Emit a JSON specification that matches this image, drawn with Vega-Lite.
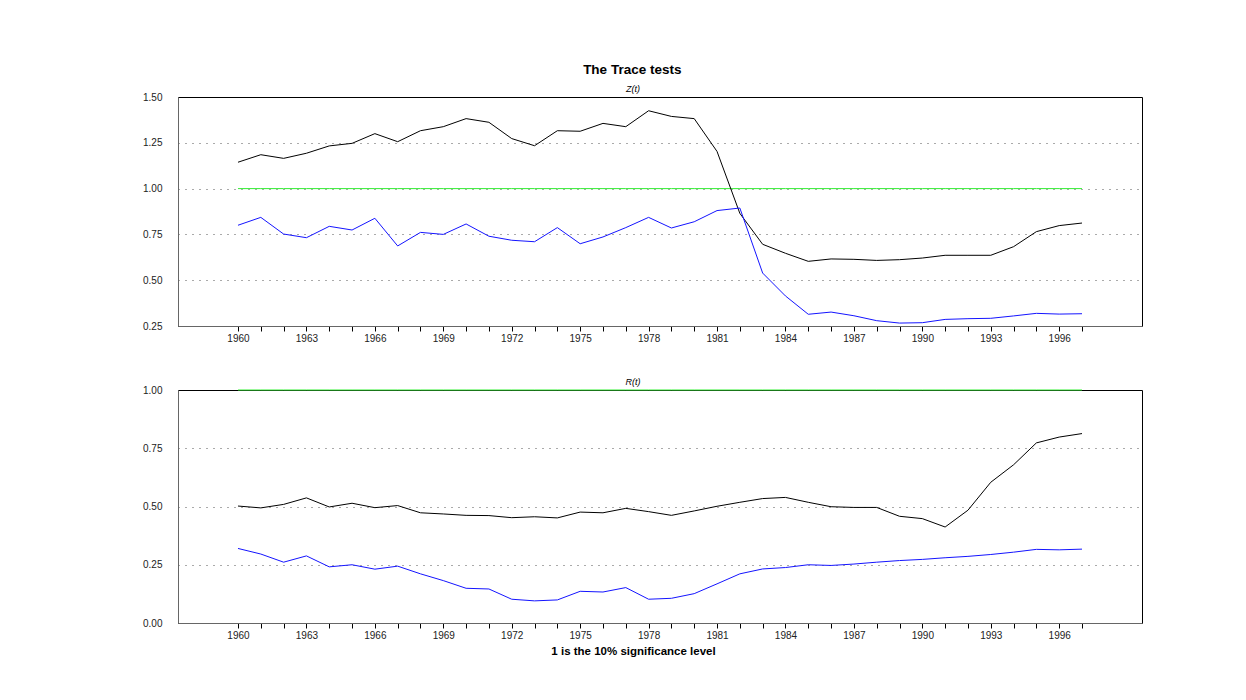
{
  "$schema": "https://vega.github.io/schema/vega-lite/v6.json",
  "background": "white",
  "padding": {"left": 142, "top": 63, "right": 5, "bottom": 5},
  "title": {"text": "The Trace tests", "font": "Liberation Sans", "fontSize": 13.5, "fontWeight": "bold", "color": "#000", "anchor": "middle", "frame": "bounds", "offset": 8, "dx": -10},
  "datasets": {
    "z": [
      {"year": 1960, "upper": 1.144, "lower": 0.800, "level": 1},
      {"year": 1961, "upper": 1.185, "lower": 0.843, "level": 1},
      {"year": 1962, "upper": 1.165, "lower": 0.752, "level": 1},
      {"year": 1963, "upper": 1.193, "lower": 0.732, "level": 1},
      {"year": 1964, "upper": 1.233, "lower": 0.794, "level": 1},
      {"year": 1965, "upper": 1.247, "lower": 0.774, "level": 1},
      {"year": 1966, "upper": 1.300, "lower": 0.838, "level": 1},
      {"year": 1967, "upper": 1.256, "lower": 0.687, "level": 1},
      {"year": 1968, "upper": 1.316, "lower": 0.761, "level": 1},
      {"year": 1969, "upper": 1.338, "lower": 0.750, "level": 1},
      {"year": 1970, "upper": 1.382, "lower": 0.807, "level": 1},
      {"year": 1971, "upper": 1.362, "lower": 0.740, "level": 1},
      {"year": 1972, "upper": 1.273, "lower": 0.718, "level": 1},
      {"year": 1973, "upper": 1.234, "lower": 0.710, "level": 1},
      {"year": 1974, "upper": 1.316, "lower": 0.787, "level": 1},
      {"year": 1975, "upper": 1.313, "lower": 0.699, "level": 1},
      {"year": 1976, "upper": 1.356, "lower": 0.736, "level": 1},
      {"year": 1977, "upper": 1.338, "lower": 0.787, "level": 1},
      {"year": 1978, "upper": 1.425, "lower": 0.843, "level": 1},
      {"year": 1979, "upper": 1.394, "lower": 0.785, "level": 1},
      {"year": 1980, "upper": 1.382, "lower": 0.819, "level": 1},
      {"year": 1981, "upper": 1.203, "lower": 0.880, "level": 1},
      {"year": 1982, "upper": 0.865, "lower": 0.894, "level": 1},
      {"year": 1983, "upper": 0.696, "lower": 0.539, "level": 1},
      {"year": 1984, "upper": 0.647, "lower": 0.414, "level": 1},
      {"year": 1985, "upper": 0.603, "lower": 0.314, "level": 1},
      {"year": 1986, "upper": 0.616, "lower": 0.326, "level": 1},
      {"year": 1987, "upper": 0.614, "lower": 0.306, "level": 1},
      {"year": 1988, "upper": 0.608, "lower": 0.279, "level": 1},
      {"year": 1989, "upper": 0.612, "lower": 0.266, "level": 1},
      {"year": 1990, "upper": 0.621, "lower": 0.268, "level": 1},
      {"year": 1991, "upper": 0.636, "lower": 0.286, "level": 1},
      {"year": 1992, "upper": 0.636, "lower": 0.290, "level": 1},
      {"year": 1993, "upper": 0.636, "lower": 0.292, "level": 1},
      {"year": 1994, "upper": 0.683, "lower": 0.305, "level": 1},
      {"year": 1995, "upper": 0.765, "lower": 0.319, "level": 1},
      {"year": 1996, "upper": 0.798, "lower": 0.315, "level": 1},
      {"year": 1997, "upper": 0.812, "lower": 0.317, "level": 1}
    ],
    "r": [
      {"year": 1960, "upper": 0.502, "lower": 0.320, "level": 1},
      {"year": 1961, "upper": 0.494, "lower": 0.296, "level": 1},
      {"year": 1962, "upper": 0.509, "lower": 0.261, "level": 1},
      {"year": 1963, "upper": 0.537, "lower": 0.288, "level": 1},
      {"year": 1964, "upper": 0.498, "lower": 0.241, "level": 1},
      {"year": 1965, "upper": 0.514, "lower": 0.250, "level": 1},
      {"year": 1966, "upper": 0.495, "lower": 0.231, "level": 1},
      {"year": 1967, "upper": 0.504, "lower": 0.244, "level": 1},
      {"year": 1968, "upper": 0.473, "lower": 0.211, "level": 1},
      {"year": 1969, "upper": 0.468, "lower": 0.182, "level": 1},
      {"year": 1970, "upper": 0.462, "lower": 0.149, "level": 1},
      {"year": 1971, "upper": 0.461, "lower": 0.146, "level": 1},
      {"year": 1972, "upper": 0.452, "lower": 0.102, "level": 1},
      {"year": 1973, "upper": 0.456, "lower": 0.095, "level": 1},
      {"year": 1974, "upper": 0.451, "lower": 0.099, "level": 1},
      {"year": 1975, "upper": 0.476, "lower": 0.136, "level": 1},
      {"year": 1976, "upper": 0.473, "lower": 0.133, "level": 1},
      {"year": 1977, "upper": 0.492, "lower": 0.152, "level": 1},
      {"year": 1978, "upper": 0.478, "lower": 0.102, "level": 1},
      {"year": 1979, "upper": 0.462, "lower": 0.106, "level": 1},
      {"year": 1980, "upper": 0.481, "lower": 0.126, "level": 1},
      {"year": 1981, "upper": 0.501, "lower": 0.168, "level": 1},
      {"year": 1982, "upper": 0.518, "lower": 0.211, "level": 1},
      {"year": 1983, "upper": 0.534, "lower": 0.232, "level": 1},
      {"year": 1984, "upper": 0.539, "lower": 0.238, "level": 1},
      {"year": 1985, "upper": 0.518, "lower": 0.250, "level": 1},
      {"year": 1986, "upper": 0.499, "lower": 0.247, "level": 1},
      {"year": 1987, "upper": 0.496, "lower": 0.253, "level": 1},
      {"year": 1988, "upper": 0.496, "lower": 0.261, "level": 1},
      {"year": 1989, "upper": 0.458, "lower": 0.268, "level": 1},
      {"year": 1990, "upper": 0.448, "lower": 0.273, "level": 1},
      {"year": 1991, "upper": 0.412, "lower": 0.280, "level": 1},
      {"year": 1992, "upper": 0.484, "lower": 0.286, "level": 1},
      {"year": 1993, "upper": 0.604, "lower": 0.294, "level": 1},
      {"year": 1994, "upper": 0.679, "lower": 0.304, "level": 1},
      {"year": 1995, "upper": 0.773, "lower": 0.316, "level": 1},
      {"year": 1996, "upper": 0.798, "lower": 0.314, "level": 1},
      {"year": 1997, "upper": 0.813, "lower": 0.317, "level": 1}
    ]
  },
  "config": {
    "font": "Liberation Sans",
    "view": {"stroke": "#000", "strokeWidth": 1},
    "axis": {"labelFont": "Liberation Sans", "labelFontSize": 10, "labelColor": "#222", "domainColor": "#666", "tickColor": "#000", "titleFont": "Liberation Sans"},
    "axisY": {"ticks": false, "labelPadding": 16, "grid": true, "gridDash": [1, 6], "gridColor": "#555", "title": null, "format": ".2f"},
    "axisX": {"grid": false, "tickSize": 5, "labelPadding": 2},
    "line": {"strokeWidth": 1, "clip": false}
  },
  "spacing": 33,
  "vconcat": [
    {
      "width": 964,
      "height": 229,
      "title": {"text": "Z(t)", "fontStyle": "italic", "fontWeight": "normal", "fontSize": 9, "color": "#000", "offset": -2, "frame": "group", "dx": -27, "anchor": "middle"},
      "data": {"name": "z"},
      "transform": [{"fold": ["level", "upper", "lower"], "as": ["series", "val"]}],
      "mark": "line",
      "encoding": {
        "x": {"field": "year", "type": "quantitative", "scale": {"domain": [1957.37, 1999.63], "nice": false, "zero": false}, "axis": {"title": null, "format": "d", "labelExpr": "(datum.value - 1960) % 3 == 0 ? datum.label : ''", "values": [1960,1961,1962,1963,1964,1965,1966,1967,1968,1969,1970,1971,1972,1973,1974,1975,1976,1977,1978,1979,1980,1981,1982,1983,1984,1985,1986,1987,1988,1989,1990,1991,1992,1993,1994,1995,1996,1997]}},
        "y": {"field": "val", "type": "quantitative", "scale": {"domain": [0.25, 1.5], "nice": false, "zero": false}, "axis": {"values": [0.25, 0.5, 0.75, 1, 1.25, 1.5], "gridOpacity": {"condition": {"test": "datum.value <= 0.26 || datum.value >= 1.49", "value": 0}, "value": 1}}},
        "color": {"field": "series", "type": "nominal", "scale": {"domain": ["level", "upper", "lower"], "range": ["#33ee33", "#000000", "#1414ff"]}, "legend": null}
      }
    },
    {
      "width": 964,
      "height": 233,
      "title": {"text": "R(t)", "fontStyle": "italic", "fontWeight": "normal", "fontSize": 9, "color": "#000", "offset": -2, "frame": "group", "dx": -27, "anchor": "middle"},
      "data": {"name": "r"},
      "transform": [{"fold": ["level", "upper", "lower"], "as": ["series", "val"]}],
      "mark": "line",
      "encoding": {
        "x": {"field": "year", "type": "quantitative", "scale": {"domain": [1957.37, 1999.63], "nice": false, "zero": false}, "axis": {"title": "1 is the 10% significance level", "titleFontSize": 11.5, "titleFontWeight": "bold", "titleColor": "#000", "titlePadding": 5, "titleX": 455, "format": "d", "labelExpr": "(datum.value - 1960) % 3 == 0 ? datum.label : ''", "values": [1960,1961,1962,1963,1964,1965,1966,1967,1968,1969,1970,1971,1972,1973,1974,1975,1976,1977,1978,1979,1980,1981,1982,1983,1984,1985,1986,1987,1988,1989,1990,1991,1992,1993,1994,1995,1996,1997]}},
        "y": {"field": "val", "type": "quantitative", "scale": {"domain": [0, 1], "nice": false, "zero": false}, "axis": {"values": [0, 0.25, 0.5, 0.75, 1], "gridOpacity": {"condition": {"test": "datum.value <= 0.01 || datum.value >= 0.99", "value": 0}, "value": 1}}},
        "color": {"field": "series", "type": "nominal", "scale": {"domain": ["level", "upper", "lower"], "range": ["#33bb33", "#000000", "#1414ff"]}, "legend": null}
      }
    }
  ]
}
